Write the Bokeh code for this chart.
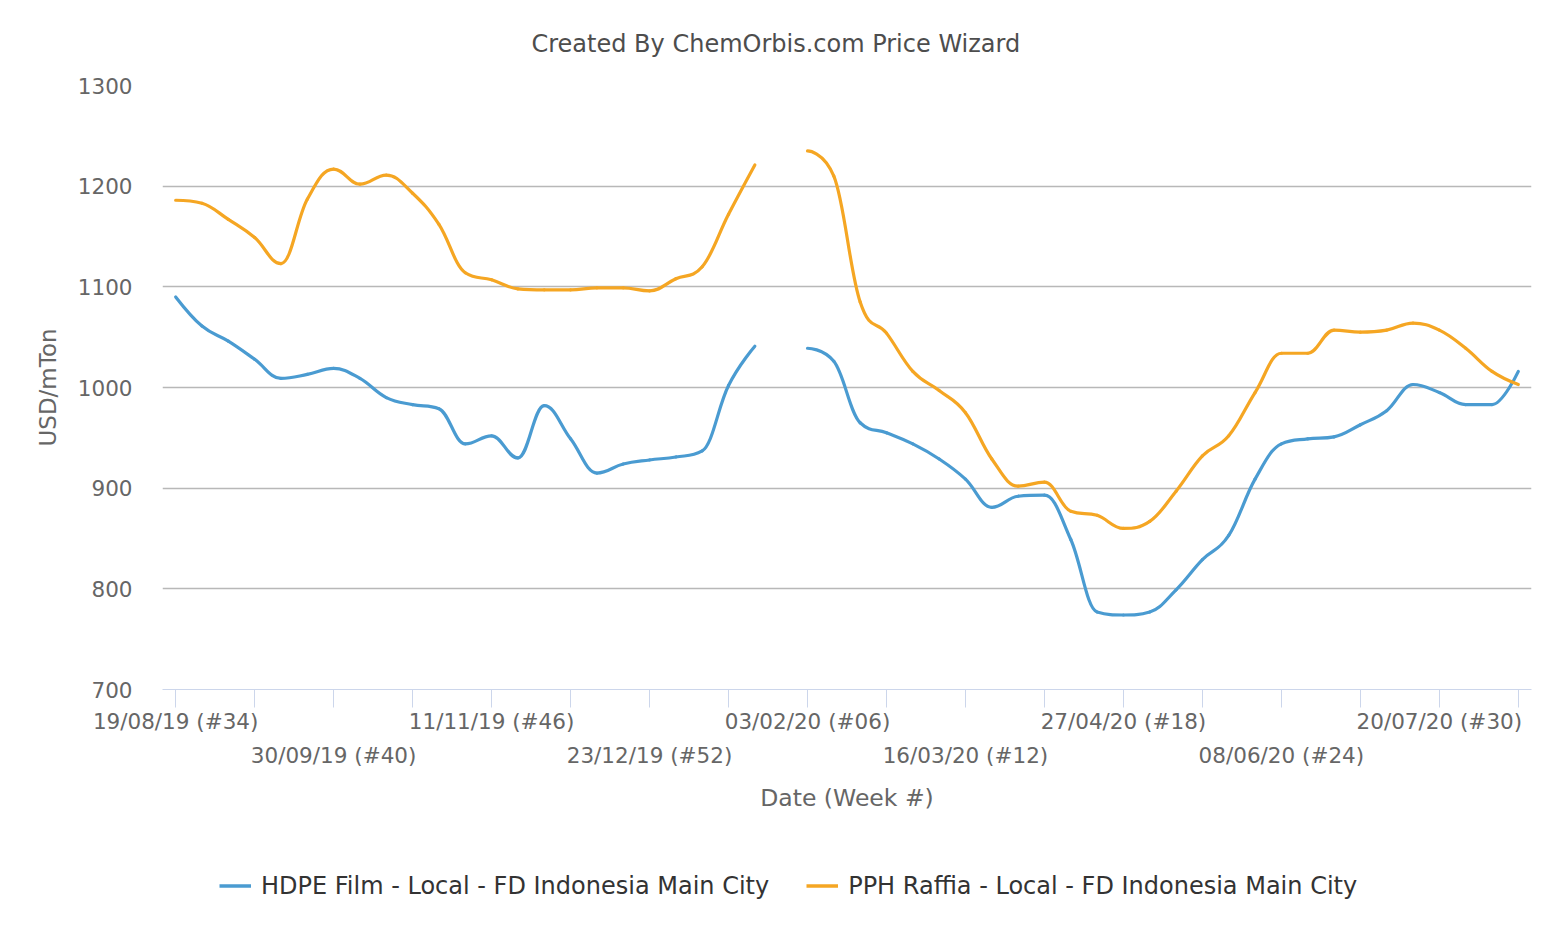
import pandas as pd
from bokeh.plotting import figure
from bokeh.layouts import column
from bokeh.models import (FixedTicker, LinearAxis, Legend, LegendItem,
                          ColumnDataSource, Range1d)
from bokeh.embed import file_html
from bokeh.resources import INLINE

# ---------------- data ----------------
start_date = pd.Timestamp("2019-08-19")
n_weeks = 52
dates = [start_date + pd.Timedelta(weeks=i) for i in range(n_weeks)]

hdpe_name = "HDPE Film - Local - FD Indonesia Main City"
pph_name = "PPH Raffia - Local - FD Indonesia Main City"

hdpe = [1090, 1061, 1046, 1028, 1009, 1013, 1019, 1009, 990, 983,
        979, 944, 952, 930, 982, 949, 915, 924, 928, 931,
        937, 1002, 1041, None, 1039, 1026, 965, 955, 944, 929,
        909, 881, 892, 893, 849, 777, 774, 777, 799, 829,
        853, 909, 944, 949, 951, 963, 977, 1003, 995, 983,
        983, 1016]

pph = [1186, 1183, 1167, 1149, 1123, 1187, 1217, 1202, 1211, 1193,
       1162, 1114, 1107, 1098, 1097, 1097, 1099, 1099, 1096, 1108,
       1120, 1172, 1221, None, 1235, 1210, 1085, 1054, 1016, 997,
       975, 929, 902, 906, 877, 873, 860, 867, 897, 932,
       952, 995, 1034, 1034, 1057, 1055, 1057, 1064, 1057, 1039,
       1016, 1003]

y_ticks = [700, 800, 900, 1000, 1100, 1200, 1300]
minor_week_ticks = list(range(0, n_weeks, 3))
row1_weeks = [0, 12, 24, 36, 48]
row2_weeks = [6, 18, 30, 42]

title_text = "Created By ChemOrbis.com Price Wizard"
x_title = "Date (Week #)"
y_title = "USD/mTon"

BLUE = "#4a9bd1"
ORANGE = "#f5a623"
FONT = "DejaVu Sans"


def week_label(d):
    return f"{d.strftime('%d/%m/%y')} (#{d.isocalendar()[1]:02d})"


def spline_source(xs, ys):
    """Highcharts-style spline: cubic bezier control points per segment."""
    segs, cur = [], []
    for x, y in zip(xs, ys):
        if y is None:
            if cur:
                segs.append(cur)
            cur = []
        else:
            cur.append((float(x), float(y)))
    if cur:
        segs.append(cur)
    sm, den = 1.5, 2.5
    out = {k: [] for k in ("x0", "y0", "x1", "y1", "cx0", "cy0", "cx1", "cy1")}
    for seg in segs:
        n = len(seg)
        left = [None] * n
        right = [None] * n
        for j in range(1, n - 1):
            lx, ly = seg[j - 1]
            px, py = seg[j]
            nx, ny = seg[j + 1]
            lcx = (sm * px + lx) / den
            lcy = (sm * py + ly) / den
            rcx = (sm * px + nx) / den
            rcy = (sm * py + ny) / den
            corr = 0.0
            if rcx != lcx:
                corr = (rcy - lcy) * (rcx - px) / (rcx - lcx) + py - rcy
            lcy += corr
            rcy += corr
            if lcy > ly and lcy > py:
                lcy = max(ly, py)
                rcy = 2 * py - lcy
            elif lcy < ly and lcy < py:
                lcy = min(ly, py)
                rcy = 2 * py - lcy
            if rcy > ny and rcy > py:
                rcy = max(ny, py)
                lcy = 2 * py - rcy
            elif rcy < ny and rcy < py:
                rcy = min(ny, py)
                lcy = 2 * py - rcy
            left[j] = (lcx, lcy)
            right[j] = (rcx, rcy)
        for j in range(1, n):
            a = seg[j - 1]
            b = seg[j]
            c0 = right[j - 1] if right[j - 1] else a
            c1 = left[j] if left[j] else b
            out["x0"].append(a[0]); out["y0"].append(a[1])
            out["x1"].append(b[0]); out["y1"].append(b[1])
            out["cx0"].append(c0[0]); out["cy0"].append(c0[1])
            out["cx1"].append(c1[0]); out["cy1"].append(c1[1])
    return ColumnDataSource(out)


W, H = 1536, 830
frame_left, frame_right = 162, 1531
frame_top, frame_bottom = 85, 689

p = figure(width=W, height=H, output_backend="svg", toolbar_location=None,
           x_range=Range1d(-0.5, n_weeks - 0.5), y_range=Range1d(700, 1300),
           min_border_left=frame_left, min_border_right=W - frame_right,
           min_border_top=frame_top, min_border_bottom=H - frame_bottom)
p.outline_line_color = None
p.background_fill_color = "white"

# title
p.title.text = title_text
p.title.align = "left"
p.title.offset = 369
p.title.text_font = FONT
p.title.text_font_size = "24px"
p.title.text_font_style = "normal"
p.title.text_color = "#4d4d4d"
p.title.standoff = 55

# grid
p.xgrid.visible = False
p.ygrid.ticker = FixedTicker(ticks=y_ticks)
p.ygrid.grid_line_color = "#b8b8b8"
p.ygrid.grid_line_width = 1.5

# y axis
ya = p.yaxis[0]
ya.ticker = FixedTicker(ticks=y_ticks)
ya.axis_line_color = None
ya.major_tick_line_color = None
ya.minor_tick_line_color = None
ya.major_tick_out = 0
ya.major_tick_in = 0
ya.major_label_standoff = 30
ya.major_label_text_font = FONT
ya.major_label_text_font_size = "21.5px"
ya.major_label_text_color = "#666666"
ya.axis_label = y_title
ya.axis_label_text_font = FONT
ya.axis_label_text_font_size = "23px"
ya.axis_label_text_font_style = "normal"
ya.axis_label_text_color = "#666666"
ya.axis_label_standoff = 14

# x axis, row 1 (with tick marks)
xa = p.xaxis[0]
xa.ticker = FixedTicker(ticks=minor_week_ticks)
xa.major_label_overrides = {i: (week_label(dates[i]) if i in row1_weeks else "")
                            for i in minor_week_ticks}
xa.axis_line_color = "#ccd6eb"
xa.major_tick_line_color = "#ccd6eb"
xa.minor_tick_line_color = None
xa.major_tick_out = 18
xa.major_tick_in = 0
xa.major_label_standoff = 1
xa.major_label_text_font = FONT
xa.major_label_text_font_size = "21.5px"
xa.major_label_text_color = "#666666"

# x axis, row 2 (staggered labels + title)
xb = LinearAxis(ticker=FixedTicker(ticks=row2_weeks),
                major_label_overrides={i: week_label(dates[i]) for i in row2_weeks})
xb.axis_line_color = None
xb.major_tick_line_color = None
xb.minor_tick_line_color = None
xb.major_tick_out = 0
xb.major_tick_in = 0
xb.major_label_standoff = 6
xb.major_label_text_font = FONT
xb.major_label_text_font_size = "21.5px"
xb.major_label_text_color = "#666666"
xb.axis_label = x_title
xb.axis_label_text_font = FONT
xb.axis_label_text_font_size = "23.5px"
xb.axis_label_text_font_style = "normal"
xb.axis_label_text_color = "#666666"
xb.axis_label_standoff = 13
p.add_layout(xb, "below")

# series
xs = list(range(n_weeks))
for vals, color in ((hdpe, BLUE), (pph, ORANGE)):
    src = spline_source(xs, vals)
    p.bezier(x0="x0", y0="y0", x1="x1", y1="y1", cx0="cx0", cy0="cy0",
             cx1="cx1", cy1="cy1", source=src, line_color=color,
             line_width=3.2, line_cap="round")

# ---------------- legend strip below the chart ----------------
# (its frame is aligned with the main chart's frame by the column layout)
lp = figure(width=W, height=95, output_backend="svg", toolbar_location=None,
            x_range=Range1d(-0.5, n_weeks - 0.5), y_range=Range1d(0, 1),
            x_axis_location=None, y_axis_location=None,
            min_border_left=0, min_border_right=0,
            min_border_top=0, min_border_bottom=0)
lp.outline_line_color = None
lp.grid.visible = False


def nan_list(vals):
    return [float("nan") if v is None else v for v in vals]


# proxy renderers carrying the series (outside this strip's y range)
r1 = lp.line(x=xs, y=nan_list(hdpe), line_color=BLUE, line_width=3.5)
r2 = lp.line(x=xs, y=nan_list(pph), line_color=ORANGE, line_width=3.5)
legend = Legend(items=[LegendItem(label=hdpe_name, renderers=[r1]),
                       LegendItem(label=pph_name, renderers=[r2])],
                orientation="horizontal", location=(57, 25),
                padding=0, margin=0, spacing=37, glyph_width=32, glyph_height=29,
                label_standoff=10, border_line_color=None,
                background_fill_alpha=0,
                label_text_font=FONT, label_text_font_size="24px",
                label_text_color="#333333")
lp.add_layout(legend, "center")

layout = column(p, lp, spacing=0)
open("out.html", "w").write(file_html(layout, INLINE))
